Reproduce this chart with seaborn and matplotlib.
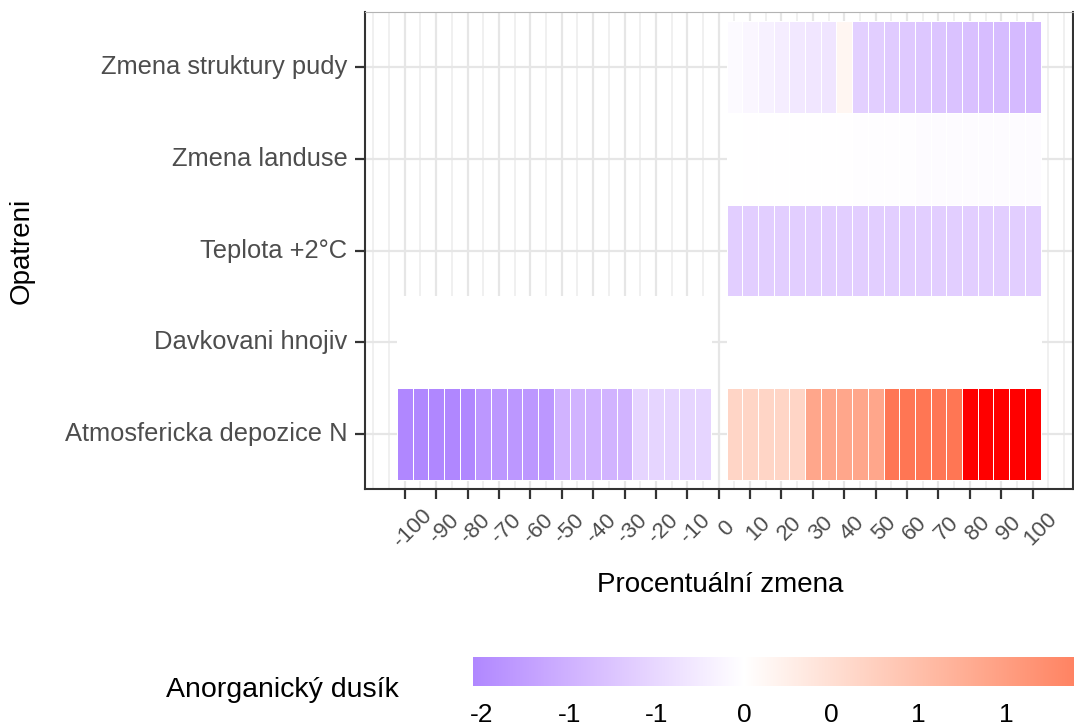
import numpy as np
import pandas as pd
import matplotlib
matplotlib.use("Agg")
import matplotlib.pyplot as plt
import seaborn as sns
from matplotlib.colors import ListedColormap
from matplotlib.transforms import ScaledTranslation

# ---------------- data ----------------
measures = ["Zmena struktury pudy", "Zmena landuse", "Teplota +2°C",
            "Davkovani hnojiv", "Atmosfericka depozice N"]

pct_neg = [-100, -95, -90, -85, -80, -75, -70, -65, -60, -55,
           -50, -45, -40, -35, -30, -25, -20, -15, -10, -5]
pct_pos = [5, 10, 15, 20, 25, 30, 35, 40, 45, 50,
           55, 60, 65, 70, 75, 80, 85, 90, 95, 100]

pudy_vals = [-0.06, -0.11, -0.18, -0.23, -0.29, -0.32, -0.33, 0.15, -0.60, -0.63,
             -0.66, -0.69, -0.72, -0.75, -0.78, -0.81, -0.84, -0.86, -0.88, -0.90]
landuse_vals = [0.00, -0.01, -0.01, -0.01, -0.01, -0.01, -0.01, -0.01, -0.03, -0.03,
                -0.03, -0.03, -0.05, -0.05, -0.05, -0.05, -0.05, -0.05, -0.05, -0.05]
teplota_vals = [-0.62, -0.62, -0.62, -0.62, -0.62, -0.62, -0.62, -0.62, -0.62, -0.62,
                -0.62, -0.62, -0.62, -0.62, -0.62, -0.62, -0.62, -0.62, -0.62, -0.62]
hnojiv_neg = [0, 0, 0, 0, 0, 0, 0, 0, 0, 0, 0, 0, 0, 0, 0, 0, 0, 0, 0, 0]
hnojiv_pos = [0, 0, 0, 0, 0, 0, 0, 0, 0, 0, 0, 0, 0, 0, 0, 0, 0, 0, 0, 0]
depozice_neg = [-1.55, -1.55, -1.55, -1.55, -1.55, -1.35, -1.35, -1.35, -1.35, -1.35,
                -0.97, -0.97, -0.97, -0.97, -0.97, -0.54, -0.54, -0.54, -0.54, -0.54]
depozice_pos = [0.66, 0.66, 0.66, 0.66, 0.66, 1.38, 1.38, 1.38, 1.38, 1.38,
                2.07, 2.07, 2.07, 2.07, 2.07, 3.00, 3.00, 3.00, 3.00, 3.00]

x_ticks = [-100, -90, -80, -70, -60, -50, -40, -30, -20, -10, 0,
           10, 20, 30, 40, 50, 60, 70, 80, 90, 100]
x_tick_labels = [str(v) for v in x_ticks]
cbar_ticks = [-1.5, -1.0, -0.5, 0.0, 0.5, 1.0, 1.5]
cbar_labels = ["-2", "-1", "-1", "0", "0", "1", "1"]

# ---------------- table ----------------
rows = []
def add(name, pcts, vals):
    for p, v in zip(pcts, vals):
        rows.append({"Opatreni": name, "pct": p, "value": v})

add(measures[0], pct_pos, pudy_vals)
add(measures[1], pct_pos, landuse_vals)
add(measures[2], pct_pos, teplota_vals)
add(measures[3], pct_neg, hnojiv_neg)
add(measures[3], pct_pos, hnojiv_pos)
add(measures[4], pct_neg, depozice_neg)
add(measures[4], pct_pos, depozice_pos)
df = pd.DataFrame(rows)

grid_cols = list(range(-100, 101, 5))
mat = df.pivot(index="Opatreni", columns="pct", values="value").reindex(index=measures, columns=grid_cols)

dmin = float(np.nanmin(mat.values))
dmax = float(np.nanmax(mat.values))
M = max(abs(dmin), abs(dmax))

# ---------------- Lab gradient (like scale_fill_gradient2) ----------------
WHITE_REF = np.array([0.95047, 1.0, 1.08883])
RGB2XYZ = np.array([[0.4124564, 0.3575761, 0.1804375],
                    [0.2126729, 0.7151522, 0.0721750],
                    [0.0193339, 0.1191920, 0.9503041]])

def srgb_to_lab(rgb):
    rgb = np.asarray(rgb, float)
    lin = np.where(rgb <= 0.04045, rgb / 12.92, ((rgb + 0.055) / 1.055) ** 2.4)
    xyz = lin @ RGB2XYZ.T / WHITE_REF
    f = np.where(xyz > 0.008856, np.cbrt(xyz), 7.787 * xyz + 16 / 116)
    return np.stack([116 * f[..., 1] - 16, 500 * (f[..., 0] - f[..., 1]), 200 * (f[..., 1] - f[..., 2])], -1)

def lab_to_srgb(lab):
    L, a, b = lab[..., 0], lab[..., 1], lab[..., 2]
    fy = (L + 16) / 116
    fx = fy + a / 500
    fz = fy - b / 200
    f = np.stack([fx, fy, fz], -1)
    xyz = np.where(f ** 3 > 0.008856, f ** 3, (f - 16 / 116) / 7.787) * WHITE_REF
    lin = xyz @ np.linalg.inv(RGB2XYZ).T
    lin = np.clip(lin, 0, 1)
    rgb = np.where(lin <= 0.0031308, 12.92 * lin, 1.055 * lin ** (1 / 2.4) - 0.055)
    return np.clip(rgb, 0, 1)

lab_low = srgb_to_lab([0, 0, 1])
lab_mid = srgb_to_lab([1, 1, 1])
lab_high = srgb_to_lab([1, 0, 0])
vals = np.linspace(dmin, dmax, 1024)
t = vals / M
labs = np.where(t[:, None] < 0,
                lab_mid + (-t[:, None]) * (lab_low - lab_mid),
                lab_mid + t[:, None] * (lab_high - lab_mid))
cmap = ListedColormap(lab_to_srgb(labs))

# ---------------- figure ----------------
sns.set_theme(style="white")
plt.rcParams["font.family"] = ["Liberation Sans", "DejaVu Sans"]

W, H = 1074, 725
fig = plt.figure(figsize=(W / 100, H / 100), dpi=100)
ax = fig.add_axes([364.7 / W, (H - 489) / H, (1072.7 - 364.7) / W, (489 - 12) / H])
cax = fig.add_axes([473 / W, (H - 686) / H, (1268 - 473) / W, 29 / H])

sns.heatmap(mat, ax=ax, cmap=cmap, vmin=dmin, vmax=dmax,
            linewidths=0.6, linecolor="white",
            cbar=True, cbar_ax=cax, cbar_kws={"orientation": "horizontal"},
            xticklabels=False, yticklabels=True)

mesh = ax.collections[0]
maskflat = np.isnan(mat.values).ravel()
ec = np.tile(np.array([1.0, 1.0, 1.0, 1.0]), (maskflat.size, 1))
ec[maskflat] = [0, 0, 0, 0]
mesh.set_edgecolor(ec)

def xc(v):
    return (np.asarray(v, float) + 100) / 5 + 0.5

ax.set_xlim(xc(-112.75), xc(112.75))
ax.set_ylim(5.1, -0.1)

ax.set_xticks(xc(x_ticks))
ax.set_xticks(xc(np.arange(-110, 111, 5)), minor=True)
ax.set_xticklabels(x_tick_labels, rotation=45, ha="center", va="center",
                   fontsize=16, color="#4d4d4d")
ax.set_yticks(np.arange(len(measures)) + 0.5)
ax.set_yticklabels(measures, rotation=0, fontsize=18.4, color="#4d4d4d", va="center")

ax.set_axisbelow(True)
ax.grid(True, which="major", axis="both", color="#e6e6e6", linewidth=1.6)
ax.grid(True, which="minor", axis="x", color="#ececec", linewidth=1.1)

ax.tick_params(axis="x", which="major", bottom=True, length=7.5, width=1.6, color="#333333", pad=21)
ax.tick_params(axis="y", which="major", left=True, length=7.5, width=1.6, color="#333333", pad=5)
ax.tick_params(axis="x", which="minor", bottom=False, length=0)

for side in ["left", "bottom", "right", "top"]:
    ax.spines[side].set_visible(True)
for side in ["left", "bottom", "right"]:
    ax.spines[side].set_color("#333333")
    ax.spines[side].set_linewidth(1.5)
ax.spines["top"].set_color("#b3b3b3")
ax.spines["top"].set_linewidth(0.8)

ax.set_xlabel("Procentuální zmena", fontsize=20, color="black")
ax.xaxis.label.set_va("center")
ax.xaxis.set_label_coords(0.502, (489 - 585) / 477)
ax.set_ylabel("Opatreni", fontsize=20, color="black")
ax.yaxis.label.set_va("center")
ax.yaxis.set_label_coords((22 - 364.7) / 708, 0.5)

for lbl in ax.get_xticklabels():
    lbl.set_transform(lbl.get_transform() + ScaledTranslation(0.08, 0, fig.dpi_scale_trans))

# colorbar styling
cb = mesh.colorbar
cb.outline.set_visible(False)
cax.set_xticks(cbar_ticks)
cax.set_xticklabels(cbar_labels, fontsize=19, color="black")
cax.xaxis.set_ticks_position("both")
cax.tick_params(axis="x", which="major", direction="in", length=4.2, width=0.8,
                color="white", pad=12, labelbottom=True, labeltop=False)
cax.tick_params(axis="x", which="minor", length=0)

fig.text(166 / W, 1 - 690 / H, "Anorganický dusík", fontsize=20.5, ha="left", va="center", color="black")

fig.savefig("out.png", dpi=100)
